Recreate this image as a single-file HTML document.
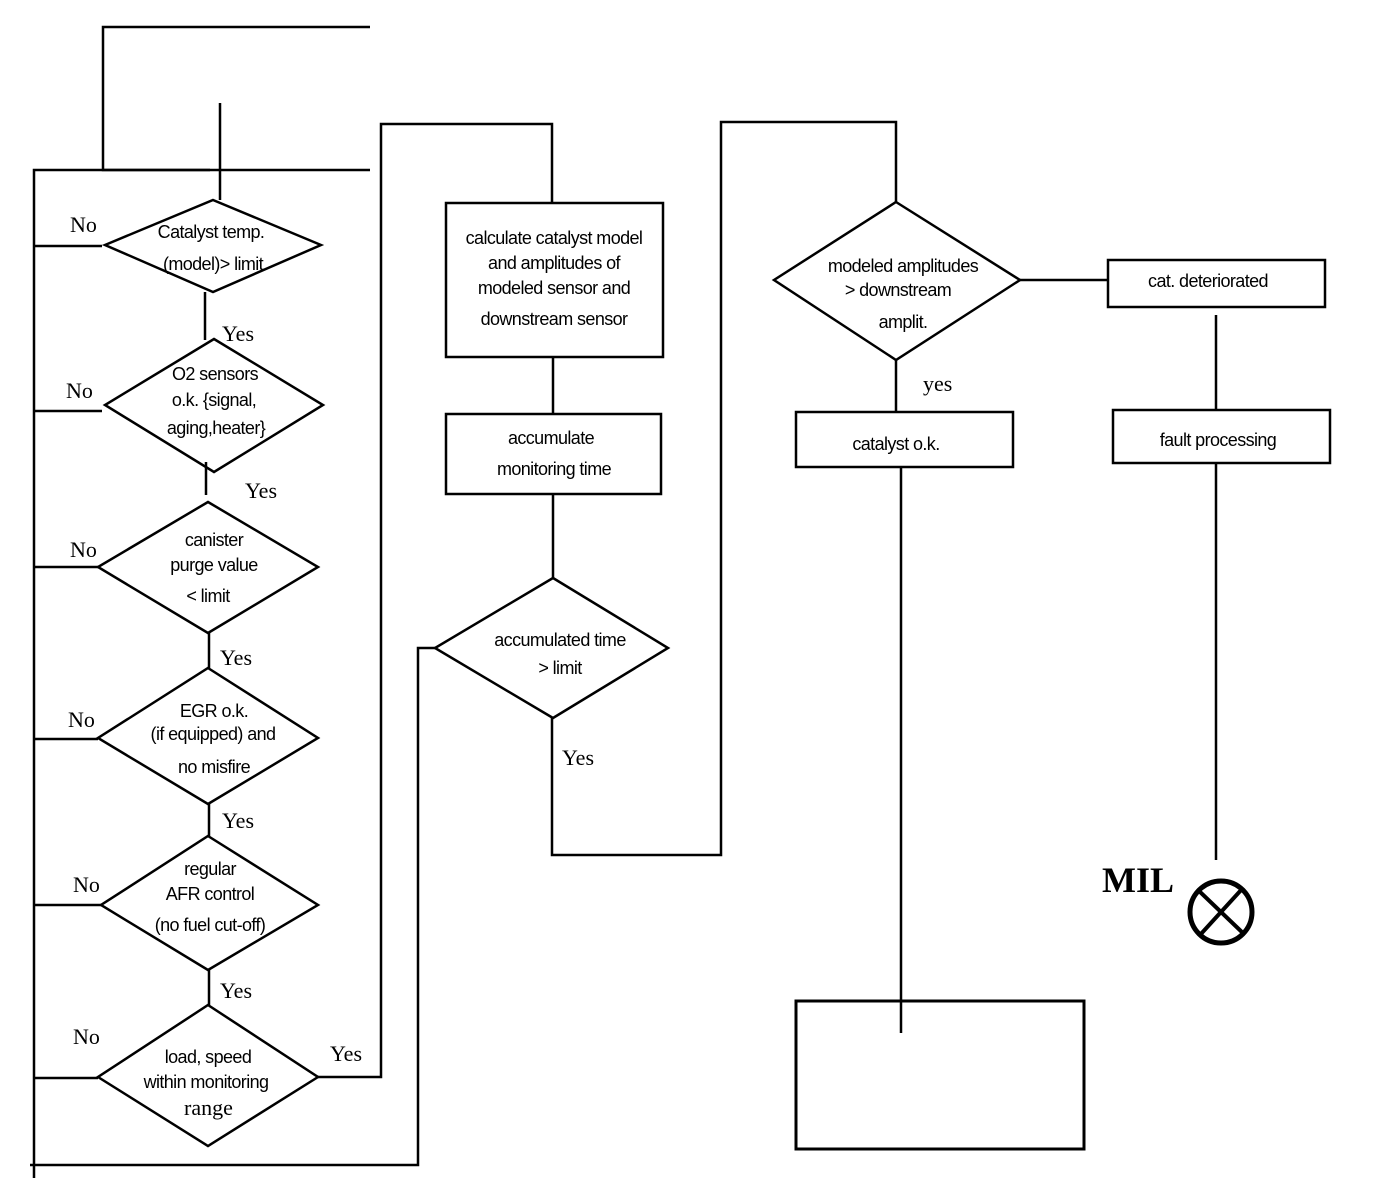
<!DOCTYPE html>
<html><head><meta charset="utf-8"><style>
html,body{margin:0;padding:0;background:#fff}
svg{display:block}
.s{font-family:"Liberation Sans",sans-serif;font-size:18px;letter-spacing:-0.6px}
.r{font-family:"Liberation Serif",serif;font-size:22px}
</style></head><body>
<svg width="1376" height="1204" viewBox="0 0 1376 1204" xmlns="http://www.w3.org/2000/svg">
<g fill="none" stroke="#000" stroke-width="2.5">
<polyline points="370,27 103,27 103,170 370,170"/>
<polyline points="34,1178 34,170 210,170"/>
<line x1="220" y1="103" x2="220" y2="200"/>
<polygon points="213,200 321,245 213,292 105,245"/>
<line x1="34" y1="246" x2="102" y2="246"/>
<line x1="205" y1="292" x2="205" y2="340"/>
<polygon points="214,339 323,405 214,472 105,405"/>
<line x1="34" y1="411" x2="102" y2="411"/>
<line x1="206" y1="462" x2="206" y2="495"/>
<polygon points="208,502 318,567 208,633 98,567"/>
<line x1="34" y1="567" x2="98" y2="567"/>
<line x1="209" y1="633" x2="209" y2="668"/>
<polygon points="208,668 318,738 208,804 98,738"/>
<line x1="34" y1="739" x2="98" y2="739"/>
<line x1="209" y1="804" x2="209" y2="836"/>
<polygon points="208,836 318,905 208,970 101,905"/>
<line x1="34" y1="905" x2="101" y2="905"/>
<line x1="209" y1="970" x2="209" y2="1005"/>
<polygon points="208,1005 318,1077 208,1146 98,1077"/>
<line x1="34" y1="1078" x2="98" y2="1078"/>
<polyline points="318,1077 381,1077 381,124 552,124 552,203"/>
<rect x="446" y="203" width="217" height="154"/>
<line x1="553" y1="357" x2="553" y2="414"/>
<rect x="446" y="414" width="215" height="80"/>
<line x1="553" y1="494" x2="553" y2="578"/>
<polygon points="553,578 668,648 553,718 435,648"/>
<polyline points="30,1165 418,1165 418,648 435,648"/>
<polyline points="552,718 552,855 721,855 721,122 896,122 896,202"/>
<polygon points="896,202 1020,280 896,360 774,280"/>
<line x1="1020" y1="280" x2="1108" y2="280"/>
<rect x="1108" y="260" width="217" height="47"/>
<line x1="1216" y1="315" x2="1216" y2="410"/>
<rect x="1113" y="410" width="217" height="53"/>
<line x1="1216" y1="463" x2="1216" y2="860"/>
<line x1="896" y1="360" x2="896" y2="412"/>
<rect x="796" y="412" width="217" height="55"/>
<line x1="901" y1="467" x2="901" y2="1033"/>
<rect x="796" y="1001" width="288" height="148" stroke-width="3"/>
<circle cx="1221" cy="912" r="31" stroke-width="5"/>
<line x1="1200" y1="935" x2="1242" y2="889" stroke-width="4"/>
<line x1="1197" y1="889" x2="1245" y2="935" stroke-width="4"/>
</g>
<g class="s" text-anchor="middle">
<text x="211" y="238">Catalyst temp.</text>
<text x="213" y="270">(model)&gt; limit</text>
<text x="215" y="380">O2 sensors</text>
<text x="214" y="406">o.k.  {signal,</text>
<text x="216" y="434">aging,heater}</text>
<text x="214" y="546">canister</text>
<text x="214" y="571">purge value</text>
<text x="208" y="602">&lt; limit</text>
<text x="214" y="717">EGR o.k.</text>
<text x="213" y="740">(if equipped) and</text>
<text x="214" y="773">no misfire</text>
<text x="210" y="875">regular</text>
<text x="210" y="900">AFR control</text>
<text x="210" y="931">(no fuel cut-off)</text>
<text x="208" y="1063">load, speed</text>
<text x="206" y="1088">within monitoring</text>
<text x="554" y="244">calculate catalyst model</text>
<text x="554" y="269">and amplitudes of</text>
<text x="554" y="294">modeled sensor and</text>
<text x="554" y="325">downstream sensor</text>
<text x="551" y="444">accumulate</text>
<text x="554" y="475">monitoring  time</text>
<text x="560" y="646">accumulated time</text>
<text x="560" y="674">&gt; limit</text>
<text x="903" y="272">modeled amplitudes</text>
<text x="898" y="296">&gt; downstream</text>
<text x="903" y="328">amplit.</text>
<text x="1208" y="287">cat. deteriorated</text>
<text x="1218" y="446">fault processing</text>
<text x="896" y="450">catalyst o.k.</text>
</g>
<g class="r">
<text x="70" y="232">No</text>
<text x="222" y="341">Yes</text>
<text x="66" y="398">No</text>
<text x="245" y="498">Yes</text>
<text x="70" y="557">No</text>
<text x="220" y="665">Yes</text>
<text x="68" y="727">No</text>
<text x="222" y="828">Yes</text>
<text x="73" y="892">No</text>
<text x="220" y="998">Yes</text>
<text x="73" y="1044">No</text>
<text x="184" y="1115">range</text>
<text x="330" y="1061">Yes</text>
<text x="562" y="765">Yes</text>
<text x="923" y="391">yes</text>
<text x="1102" y="892" style="font-size:36px;font-weight:bold">MIL</text>
</g>
</svg>
</body></html>
